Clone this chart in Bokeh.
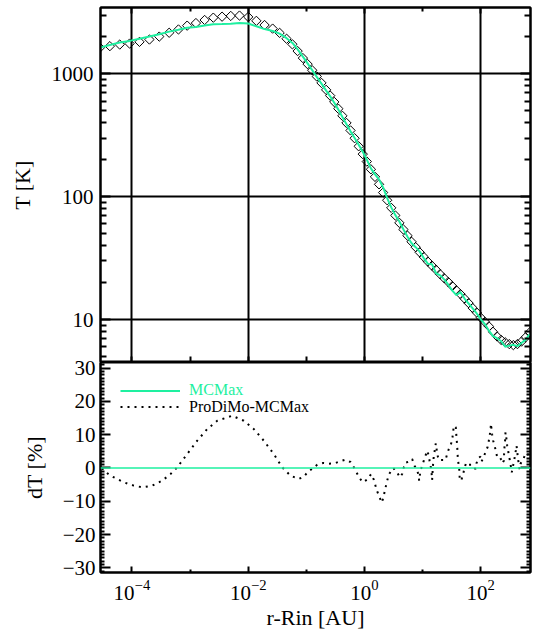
import math
from bokeh.plotting import figure
from bokeh.models import (FixedTicker, PrintfTickFormatter, LogAxis, LinearAxis,
                          Span, Legend, LegendItem, LogTickFormatter, CustomJSTickFormatter)
from bokeh.layouts import column
from bokeh.embed import file_html
from bokeh.resources import INLINE

FONT = "Liberation Serif"
GREEN = "#1ef0a0"

# ---- top panel: ProDiMo (diamonds) and MCMax (line) temperatures ----
r_pd = [2.82e-5, 4.17e-5, 6.17e-5, 9.12e-5, 1.35e-4, 2.00e-4, 2.95e-4, 4.37e-4, 6.31e-4, 8.91e-4,
        1.26e-3, 1.78e-3, 2.51e-3, 3.55e-3, 5.01e-3, 7.08e-3, 1.00e-2, 1.38e-2, 1.91e-2, 2.63e-2,
        3.47e-2, 4.57e-2, 5.75e-2, 7.08e-2, 8.71e-2, 0.105, 0.126, 0.151, 0.182, 0.219,
        0.257, 0.302, 0.355, 0.417, 0.490, 0.575, 0.676, 0.794, 0.933,
        1.096, 1.288, 1.514, 1.778, 2.089, 2.455, 2.884, 3.388, 3.981, 4.677,
        5.495, 6.457, 7.586, 8.913, 10.47, 12.30, 14.45, 16.98, 19.95, 23.44,
        27.54, 32.36, 38.02, 44.67, 52.48, 61.66, 72.44, 85.11, 100.0, 117.5,
        138.0, 162.2, 190.5, 223.9, 263.0, 309.0, 363.1, 426.6, 501.2, 588.8, 691.8]
T_pd = [1633, 1679, 1730, 1762, 1820, 1901, 2009, 2158, 2296, 2466,
        2588, 2742, 2864, 2917, 2958, 2979, 2904, 2698, 2495, 2333,
        2153, 1928, 1738, 1531, 1343, 1199, 1069, 951, 843, 740,
        664, 590, 520, 455, 398, 346, 299, 257, 222,
        193, 167, 145, 126, 108, 93.5, 81.1, 70.3, 61.2, 54.0,
        48.1, 42.9, 38.8, 35.2, 32.3, 29.6, 27.4, 25.4, 23.4, 21.7,
        20.2, 18.7, 17.3, 16.1, 14.8, 13.6, 12.4, 11.4, 10.35, 9.57,
        8.79, 7.94, 7.28, 6.82, 6.52, 6.31, 6.19, 6.31, 6.61, 7.16, 7.85]
T_mc = [1633, 1715, 1796, 1853, 1929, 2011, 2098, 2204, 2280, 2367,
        2403, 2475, 2532, 2539, 2559, 2593, 2568, 2435, 2312, 2228,
        2123, 1949, 1783, 1582, 1380, 1215, 1071, 943, 832, 730,
        655, 582, 511, 445, 389, 340, 300, 264, 232,
        200, 170, 152, 138, 119, 97.2, 81.8, 70.7, 62.8, 54.1,
        47.2, 41.8, 38.8, 35.7, 31.6, 28.4, 28.2, 23.8, 22.9, 21.2,
        19.2, 17.2, 15.8, 16.7, 14.8, 13.5, 12.3, 11.2, 10.03, 9.18,
        8.11, 7.32, 7.04, 6.65, 6.01, 6.13, 6.22, 6.07, 6.44, 6.86, 7.57]

# ---- bottom panel: relative difference ProDiMo-MCMax [%] ----
r_dt = [3.08e-5, 3.29e-5, 4.29e-5, 7.26e-5, 1.079e-4, 1.503e-4, 2.234e-4, 3.319e-4, 4.613e-4, 6.01e-4,
        8.93e-4, 1.327e-3, 1.972e-3, 2.931e-3, 5.309e-3, 8.395e-3, 1.247e-2, 1.854e-2, 2.754e-2, 3.846e-2,
        5.333e-2, 7.413e-2, 9.036e-2, 0.1059, 0.1312, 0.1538, 0.1950, 0.2432, 0.3048, 0.3758,
        0.4710, 0.5741, 0.6546, 0.7278, 0.8204, 0.9354, 1.112, 1.303, 1.445, 1.545,
        1.652, 1.832, 1.986, 2.099, 2.208, 2.323, 2.455, 2.618, 2.877, 3.119,
        3.648, 4.046, 4.446, 4.742, 5.070, 5.781, 6.607, 7.244, 8.054, 8.590,
        8.690, 9.183, 9.817, 10.47, 11.19, 11.97, 12.76, 13.27, 14.03, 14.32,
        14.55, 14.96, 15.56, 16.18, 16.83, 17.30, 17.78, 18.97, 21.68, 24.72,
        26.42, 28.18, 30.97, 32.58, 33.50, 34.36, 37.15, 38.19, 39.26, 40.18,
        41.40, 42.56, 43.05, 43.55, 46.56, 49.77, 52.48, 56.10, 62.23, 71.12,
        75.68, 81.10, 84.33, 90.16, 98.86, 102.8, 112.7, 121.9, 131.8, 137.4,
        142.9, 146.9, 150.0, 152.8, 157.0, 163.3, 174.2, 184.1, 191.4, 212.3,
        227.0, 236.0, 248.9, 251.8, 255.9, 263.0, 266.1, 276.7, 284.4, 295.8,
        303.4, 315.5, 324.3, 337.3, 341.2, 354.8, 369.0, 384.6, 399.9, 411.1,
        422.7, 432.5, 450.8, 463.4, 481.9, 515.2, 549.5, 587.5, 628.1, 668.3]
dT = [0, -0.8, -2.3, -4.3, -5.3, -5.8, -5.3, -3.8, -1.8, 0.2,
      4.2, 8.2, 11.7, 14.2, 15.7, 14.2, 11.7, 8.2, 4.2, 0.2,
      -2.3, -3.3, -2.6, -1.2, 0, 1.0, 1.5, 1.3, 1.4, 2.0,
      2.5, 1.8, 0.2, -1.3, -3.0, -4.3, -3.5, -1.8, -3.5, -5.3,
      -7.0, -9.0, -10.4, -9.0, -7.3, -5.6, -3.8, -2.0, -0.8, 0,
      -1.3, -2.8, -1.8, 0.2, 1.6, 1.9, 2.7, 0.7, -0.8, -2.3,
      -3.8, -0.8, 0.7, 2.2, 3.7, 5.2, 3.7, 1.7, -0.3, -2.0,
      -3.6, 0.2, 3.7, 5.4, 7.4, 6.0, 4.2, 2.4, 2.4, 2.4,
      4.2, 5.7, 7.4, 9.2, 11.0, 12.7, 12.2, 9.2, 6.7, 3.2,
      1.2, -0.3, -2.0, -3.8, -3.5, -1.8, 0, 1.6, 1.0, 1.0,
      0.2, -0.3, 1.4, 3.0, 3.4, 1.9, 3.4, 5.0, 6.4, 8.2,
      10.0, 11.7, 13.3, 11.7, 10.0, 8.2, 6.4, 4.7, 3.2, 3.2,
      2.4, 1.4, 2.2, 4.4, 6.4, 8.7, 10.7, 8.7, 6.7, 5.2,
      3.7, 2.4, 1.0, -0.3, -1.3, 0.2, 1.7, 3.4, 5.2, 6.7,
      5.2, 3.2, 1.2, -0.3, 1.2, 2.4, 3.0, 4.4, 4.4, 3.7]

# ---- axis ticks ----
x_major = [1e-4, 1e-2, 1.0, 1e2]
x_minor = [1e-5, 1e-3, 1e-1, 1e1, 1e3]
T_major = [10, 100, 1000]
T_minor = [5, 6, 7, 8, 9] + [m * 10 for m in range(2, 10)] + [m * 100 for m in range(2, 10)] + [2000, 3000]
dT_major = [-30, -20, -10, 0, 10, 20, 30]
dT_minor = [v for v in range(-31, 32) if v % 10 != 0]

XR = (2.88e-5, 716)
OVERLAP = 14  # bottom canvas slides under the top one so its "30" label is not clipped


def style_axis(ax, tin, mtin, labels=True, size="21px"):
    ax.axis_line_width = 2
    ax.axis_line_color = "black"
    ax.major_tick_line_width = 2
    ax.minor_tick_line_width = 2
    ax.major_tick_line_color = "black"
    ax.minor_tick_line_color = "black"
    ax.major_tick_in = tin
    ax.major_tick_out = 0
    ax.minor_tick_in = mtin
    ax.minor_tick_out = 0
    ax.major_label_text_font = FONT
    ax.major_label_text_color = "black"
    ax.axis_label_text_font = FONT
    ax.axis_label_text_font_style = "normal"
    ax.axis_label_text_font_size = "22px"
    ax.axis_label_text_color = "black"
    if labels:
        ax.major_label_text_font_size = size
    else:
        ax.formatter = CustomJSTickFormatter(code="return ''")
        ax.major_label_text_font_size = "1px"
        ax.major_label_standoff = 0


# ---------------- top panel ----------------
p1 = figure(width=540, height=362, x_axis_type="log", y_axis_type="log",
            x_range=XR, y_range=(4.467, 3465),
            output_backend="svg", toolbar_location=None,
            min_border_left=100, min_border_right=10, min_border_top=7, min_border_bottom=0,
            background_fill_color="white", border_fill_color="white")
p1.outline_line_color = "black"
p1.outline_line_width = 2

p1.xaxis.ticker = FixedTicker(ticks=x_major, minor_ticks=x_minor)
style_axis(p1.xaxis[0], 6, 6, labels=False)
p1.yaxis.ticker = FixedTicker(ticks=T_major, minor_ticks=T_minor)
p1.yaxis.formatter = PrintfTickFormatter(format="%d")
style_axis(p1.yaxis[0], 10, 6)
p1.yaxis.major_label_standoff = 7
p1.yaxis.axis_label = "T [K]"
p1.yaxis.axis_label_standoff = 14

top_ax = LogAxis(ticker=FixedTicker(ticks=x_major, minor_ticks=x_minor))
style_axis(top_ax, 6, 4, labels=False)
p1.add_layout(top_ax, "above")
right_ax1 = LogAxis(ticker=FixedTicker(ticks=T_major, minor_ticks=T_minor))
style_axis(right_ax1, 10, 6, labels=False)
p1.add_layout(right_ax1, "right")

p1.xgrid.ticker = FixedTicker(ticks=x_major)
p1.ygrid.ticker = FixedTicker(ticks=T_major)
for g in (p1.xgrid[0], p1.ygrid[0]):
    g.grid_line_color = "black"
    g.grid_line_width = 2
    g.grid_line_alpha = 1.0

p1.scatter(r_pd, T_pd, marker="square", angle=math.pi / 4, size=6.6,
           line_color="black", line_width=1, fill_color=None)
p1.line(r_pd, T_mc, line_color=GREEN, line_width=2)

# ---------------- bottom panel ----------------
p2 = figure(width=540, height=270 + OVERLAP, x_axis_type="log",
            x_range=p1.x_range, y_range=(-31.4, 31.7),
            output_backend="svg", toolbar_location=None,
            min_border_left=100, min_border_right=10, min_border_top=OVERLAP, min_border_bottom=60,
            background_fill_color="white", border_fill_color="white", border_fill_alpha=0)
p2.styles = {"margin-top": f"-{OVERLAP}px"}
p2.outline_line_color = "black"
p2.outline_line_width = 2
p2.xgrid.visible = False
p2.ygrid.visible = False

p2.xaxis.ticker = FixedTicker(ticks=x_major, minor_ticks=x_minor)
p2.xaxis.formatter = LogTickFormatter()
style_axis(p2.xaxis[0], 6, 3)
p2.xaxis.major_label_standoff = 7
p2.xaxis.axis_label = "r-Rin [AU]"
p2.xaxis.axis_label_standoff = 2

p2.yaxis.ticker = FixedTicker(ticks=dT_major, minor_ticks=dT_minor)
style_axis(p2.yaxis[0], 10, 4)
p2.yaxis.major_label_standoff = 5
p2.yaxis.axis_label = "dT [%]"
p2.yaxis.axis_label_standoff = 13

right_ax2 = LinearAxis(ticker=FixedTicker(ticks=dT_major, minor_ticks=dT_minor))
style_axis(right_ax2, 10, 4, labels=False)
p2.add_layout(right_ax2, "right")

p2.add_layout(Span(location=0, dimension="width", line_color=GREEN, line_width=1.3))
pd_line = p2.line(r_dt, dT, line_color="black", line_width=2, line_dash="2 5")
leg_mc_line = p2.line(x=[1e-3], y=[0], line_color=GREEN, line_width=2)


def make_legend(label, rend, y, color):
    lg = Legend(items=[LegendItem(label=label, renderers=[rend])], location=(20, y))
    lg.border_line_alpha = 0
    lg.background_fill_alpha = 0
    lg.padding = 0
    lg.margin = 0
    lg.spacing = 0
    lg.glyph_width = 60
    lg.glyph_height = 15
    lg.label_height = 15
    lg.label_standoff = 9
    lg.label_text_font = FONT
    lg.label_text_font_size = "16px"
    lg.label_text_color = color
    return lg


p2.add_layout(make_legend("MCMax", leg_mc_line, 173, GREEN))
p2.add_layout(make_legend("ProDiMo-MCMax", pd_line, 156.5, "black"))

layout = column(p1, p2, spacing=0)
open("out.html", "w").write(file_html(layout, INLINE))
